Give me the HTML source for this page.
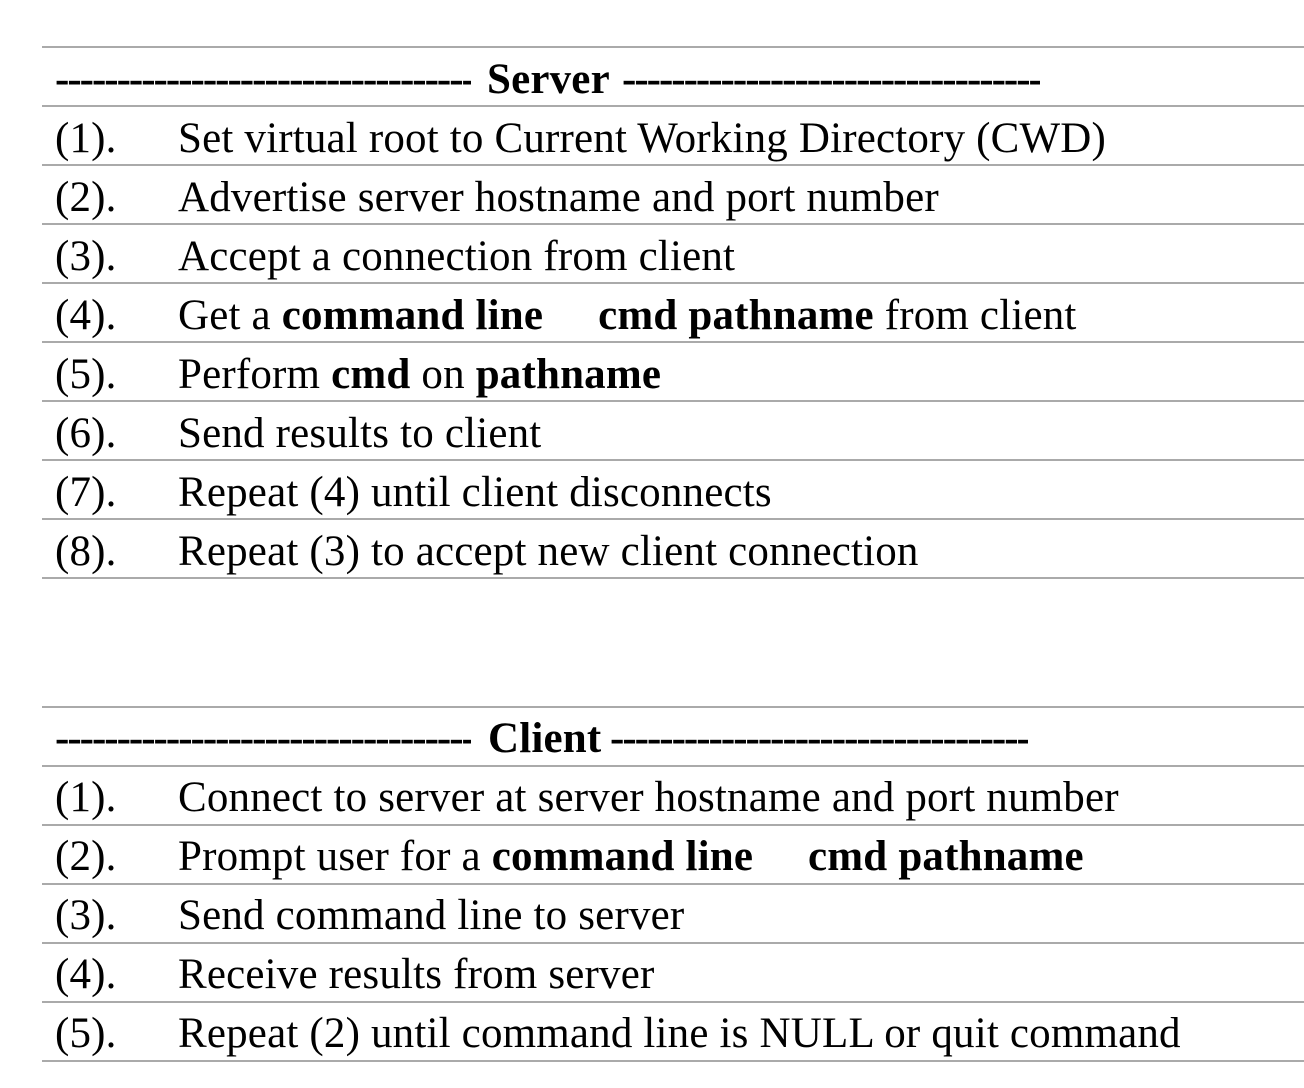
<!DOCTYPE html>
<html><head><meta charset="utf-8"><style>
body{margin:0;width:1304px;height:1088px;background:#fff;position:relative;overflow:hidden;font-family:"Liberation Serif",serif;font-size:43px;color:#000}
.l{position:absolute;left:42px;width:1262px;height:2px;background:#aaa}
.t{position:absolute;white-space:nowrap;line-height:1;letter-spacing:0.18px}
.d{position:absolute;overflow:hidden;white-space:nowrap;font-weight:bold;line-height:1;letter-spacing:-2px}
b{font-weight:bold}
</style></head><body>
<div class="l" style="top:46px"></div><div class="l" style="top:105px"></div><div class="l" style="top:164px"></div><div class="l" style="top:223px"></div><div class="l" style="top:282px"></div><div class="l" style="top:341px"></div><div class="l" style="top:400px"></div><div class="l" style="top:459px"></div><div class="l" style="top:518px"></div><div class="l" style="top:577px"></div>
<div class="l" style="top:706px"></div><div class="l" style="top:765px"></div><div class="l" style="top:824px"></div><div class="l" style="top:883px"></div><div class="l" style="top:942px"></div><div class="l" style="top:1001px"></div><div class="l" style="top:1060px"></div>

<div class="d" style="left:55px;top:58px;width:416px">------------------------------------------------------</div>
<div class="t" style="left:487px;top:58px"><b>Server</b></div>
<div class="d" style="left:622px;top:58px;width:418px">------------------------------------------------------</div>

<div class="t" style="left:55px;top:117px">(1).</div><div class="t" style="left:178px;top:117px">Set virtual root to Current Working Directory (CWD)</div>
<div class="t" style="left:55px;top:176px">(2).</div><div class="t" style="left:178px;top:176px">Advertise server hostname and port number</div>
<div class="t" style="left:55px;top:235px">(3).</div><div class="t" style="left:178px;top:235px">Accept a connection from client</div>
<div class="t" style="left:55px;top:294px">(4).</div><div class="t" style="left:178px;top:294px">Get a <b>command line</b><span style="display:inline-block;width:44px"></span> <b>cmd pathname</b> from client</div>
<div class="t" style="left:55px;top:353px">(5).</div><div class="t" style="left:178px;top:353px">Perform <b>cmd</b> on <b>pathname</b></div>
<div class="t" style="left:55px;top:412px">(6).</div><div class="t" style="left:178px;top:412px">Send results to client</div>
<div class="t" style="left:55px;top:471px">(7).</div><div class="t" style="left:178px;top:471px">Repeat (4) until client disconnects</div>
<div class="t" style="left:55px;top:530px">(8).</div><div class="t" style="left:178px;top:530px">Repeat (3) to accept new client connection</div>

<div class="d" style="left:55px;top:717px;width:416px">------------------------------------------------------</div>
<div class="t" style="left:488px;top:717px"><b>Client</b></div>
<div class="d" style="left:610px;top:717px;width:418px">------------------------------------------------------</div>

<div class="t" style="left:55px;top:776px">(1).</div><div class="t" style="left:178px;top:776px">Connect to server at server hostname and port number</div>
<div class="t" style="left:55px;top:835px">(2).</div><div class="t" style="left:178px;top:835px">Prompt user for a <b>command line</b><span style="display:inline-block;width:44px"></span> <b>cmd pathname</b></div>
<div class="t" style="left:55px;top:894px">(3).</div><div class="t" style="left:178px;top:894px">Send command line to server</div>
<div class="t" style="left:55px;top:953px">(4).</div><div class="t" style="left:178px;top:953px">Receive results from server</div>
<div class="t" style="left:55px;top:1012px">(5).</div><div class="t" style="left:178px;top:1012px">Repeat (2) until command line is NULL or quit command</div>
</body></html>
